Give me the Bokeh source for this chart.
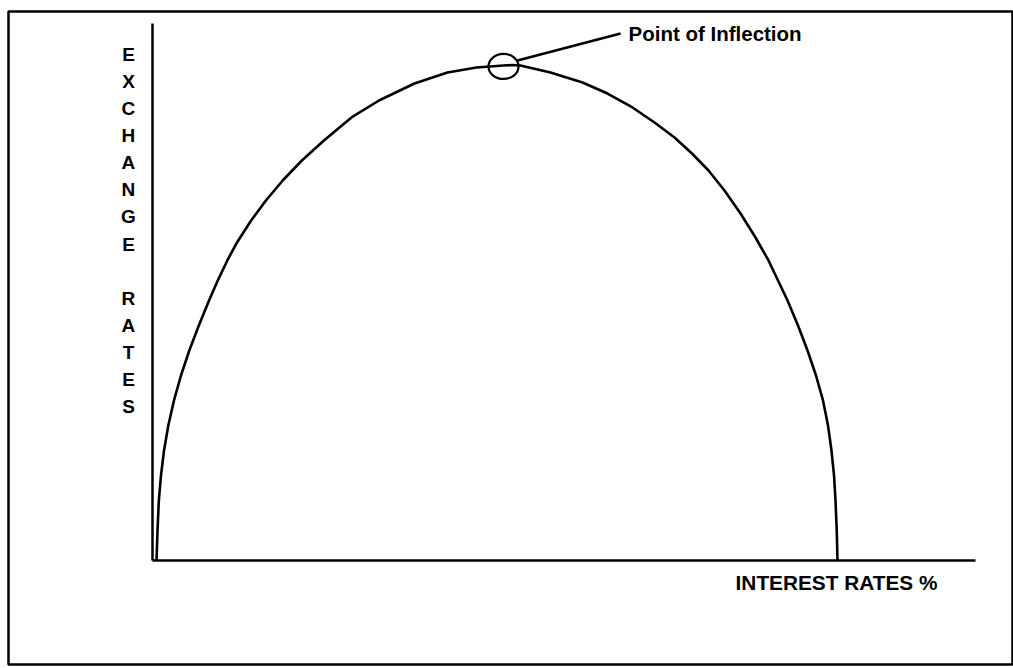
from bokeh.plotting import figure
from bokeh.models import Range1d, Label, BoxAnnotation, FixedTicker, ColumnDataSource, LinearAxis
from bokeh.embed import file_html
from bokeh.resources import INLINE

# Curve: exchange rate (y) vs interest rate (x), 0-100 units
interest = [0.49, 0.61, 0.77, 1.03, 1.40, 1.92, 2.61, 3.46, 4.47, 5.63, 6.87, 7.93,
            9.09, 10.27, 11.98, 13.78, 15.82, 18.15, 20.83, 24.18, 27.52, 31.83,
            35.84, 39.37, 42.65, 43.74,
            44.71, 48.36, 52.25, 55.29, 58.32, 61.00, 63.43, 65.55, 67.56, 69.50,
            71.45, 73.27, 74.85, 76.18, 77.16, 78.43, 79.59, 80.62, 81.47, 82.08,
            82.50, 82.81, 82.99, 83.14, 83.23]
exchange = [0.0, 5.59, 11.17, 15.83, 20.48, 25.14, 29.80, 34.45, 39.11, 43.76, 48.42,
            52.14, 55.87, 59.22, 63.31, 67.04, 70.76, 74.49, 78.21, 82.50, 85.66,
            88.83, 90.88, 91.81, 92.18, 92.27,
            92.18, 90.88, 89.01, 86.96, 84.36, 81.56, 78.77, 75.79, 72.63, 68.90,
            64.62, 60.15, 55.87, 51.58, 48.42, 43.76, 39.11, 34.45, 29.80, 25.14,
            20.48, 15.83, 11.17, 5.59, 0.0]

peak_x = [42.65]
peak_y = [92.0]

x_label = "INTEREST RATES %"
y_label = "EXCHANGE RATES"
note_text = "Point of Inflection"

FONT = "Liberation Sans"

p = figure(width=1013, height=668, output_backend="svg", toolbar_location=None,
           x_range=Range1d(-18.469, 104.617), y_range=Range1d(-20.112, 104.283),
           x_axis_type=None, y_axis_type=None, min_border=0)
p.background_fill_color = "white"
p.border_fill_color = "white"
p.outline_line_color = None
p.grid.visible = False

for loc in ("below", "left"):
    ax = LinearAxis(fixed_location=0, bounds=(0, 100), ticker=FixedTicker(ticks=[]),
                    major_tick_line_color=None, minor_tick_line_color=None,
                    major_label_text_alpha=0, axis_line_color="black",
                    axis_line_width=2.5)
    p.add_layout(ax, loc)

src = ColumnDataSource(dict(x=interest, y=exchange))
p.line("x", "y", source=src, line_color="black", line_width=2.6,
       line_join="round")

# circle marking the peak
p.ellipse(x=peak_x, y=peak_y, width=3.65, height=4.66, fill_color=None,
          line_color="black", line_width=2.2)

# leader line to the note
p.line(x=[44.35, 56.87], y=[93.11, 98.14], line_color="black", line_width=2.6)

p.add_layout(Label(x=57.84, y=98.14, text=note_text, text_align="left",
                   text_baseline="middle", text_font=FONT, text_font_style="bold",
                   text_font_size="20.5px", text_color="black"))

p.add_layout(Label(x=83.11, y=-4.10, text=x_label, text_align="center",
                   text_baseline="middle", text_font=FONT, text_font_style="bold",
                   text_font_size="20.8px", text_color="black"))

stacked = "\n".join(list(y_label))
p.add_layout(Label(x=-2.92, y=61.45, text=stacked, text_align="center",
                   text_baseline="middle", text_font=FONT, text_font_style="bold",
                   text_font_size="19px", text_line_height=1.29, text_color="black"))

# outer border of the figure
p.add_layout(BoxAnnotation(left=8, right=1012, top=11, bottom=664,
                           left_units="canvas", right_units="canvas",
                           top_units="canvas", bottom_units="canvas",
                           fill_alpha=0, fill_color=None,
                           line_color="black", line_alpha=1.0, line_width=2.5))

open("out.html", "w").write(file_html(p, INLINE))
